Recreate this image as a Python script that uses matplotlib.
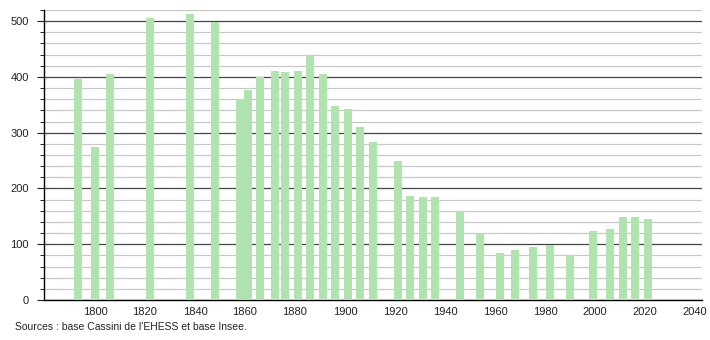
import matplotlib.pyplot as plt
from matplotlib.ticker import MultipleLocator

plt.rcParams["font.family"] = ["Liberation Sans", "DejaVu Sans"]

# années des recensements et population
annees = [1793, 1800, 1806, 1822, 1838, 1848, 1858, 1861, 1866, 1872,
          1876, 1881, 1886, 1891, 1896, 1901, 1906, 1911, 1921, 1926,
          1931, 1936, 1946, 1954, 1962, 1968, 1975, 1982, 1990, 1999,
          2006, 2011, 2016, 2021]
population = [396, 274, 406, 505, 513, 498, 361, 376, 400, 410,
              408, 410, 439, 405, 347, 342, 311, 284, 250, 187,
              184, 184, 160, 121, 85, 90, 95, 99, 81, 124,
              128, 149, 149, 146]
graduations = [1800, 1820, 1840, 1860, 1880, 1900, 1920, 1940, 1960, 1980, 2000, 2020, 2040]

fig = plt.figure(figsize=(7.1, 3.4), dpi=100)
ax = fig.add_axes([44 / 710, 40 / 340, 658 / 710, 290 / 340])

ax.bar(annees, population, width=3.2, color="#b1e3b1", zorder=3)

ax.set_xlim(1779.6, 2042.8)
ax.set_ylim(0, 520)
ax.set_xticks(graduations)
ax.yaxis.set_major_locator(MultipleLocator(100))
ax.yaxis.set_minor_locator(MultipleLocator(20))

# quadrillage
ax.grid(which="major", axis="y", color="#444444", linewidth=0.9, zorder=1)
ax.grid(which="minor", axis="y", color="#c8c8c8", linewidth=0.9, zorder=1)

for s in ["top", "right"]:
    ax.spines[s].set_visible(False)
ax.spines["left"].set_linewidth(1.0)
ax.spines["bottom"].set_linewidth(1.0)

ax.tick_params(axis="y", which="major", length=5, labelsize=8, colors="#222222", pad=6)
ax.tick_params(axis="y", which="minor", length=3)
ax.tick_params(axis="x", length=0, labelsize=8, colors="#222222", pad=5)

fig.text(15 / 710, 1 - 327 / 340, "Sources : base Cassini de l'EHESS et base Insee.",
         fontsize=7.5, color="#222222", va="center")

fig.savefig("out.png", dpi=100)
